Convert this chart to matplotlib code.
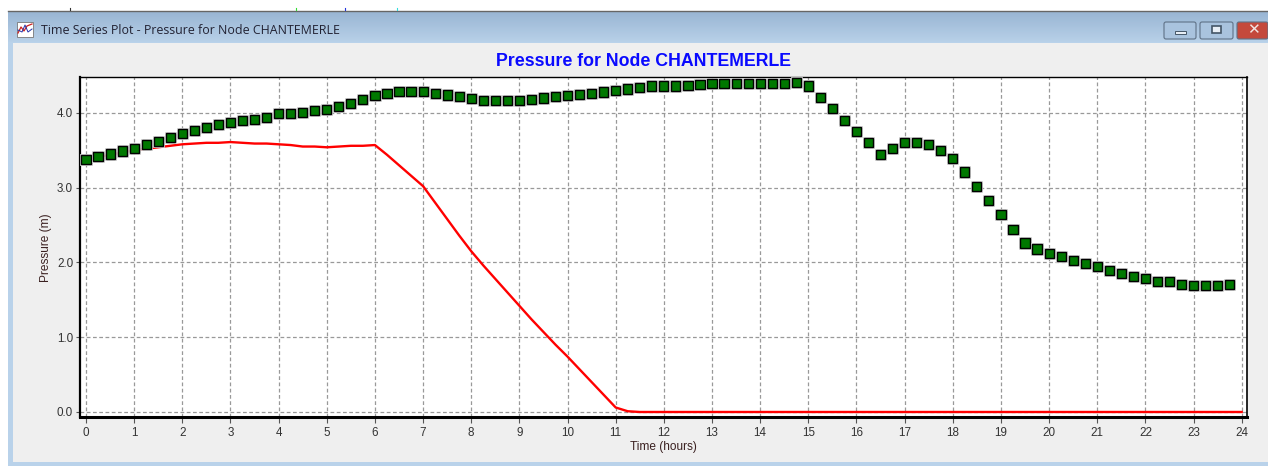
import matplotlib
matplotlib.use("Agg")
import matplotlib.pyplot as plt
import matplotlib.patheffects as pe
from matplotlib.colors import LinearSegmentedColormap
from matplotlib.patches import Rectangle, FancyBboxPatch
import numpy as np

plt.rcParams['font.family'] = ['Liberation Sans', 'DejaVu Sans']

W, H = 1268, 466

# pressure, one value every quarter hour
observed = [3.38, 3.42, 3.45, 3.49, 3.52, 3.58, 3.62, 3.67, 3.72, 3.76, 3.81, 3.84,
            3.87, 3.90, 3.91, 3.94, 3.99, 3.99, 4.00, 4.03, 4.05, 4.08, 4.13, 4.18,
            4.23, 4.26, 4.29, 4.29, 4.29, 4.26, 4.24, 4.22, 4.19, 4.17, 4.17, 4.17,
            4.17, 4.18, 4.20, 4.22, 4.23, 4.25, 4.26, 4.28, 4.30, 4.32, 4.34, 4.36,
            4.36, 4.36, 4.37, 4.38, 4.39, 4.39, 4.39, 4.39, 4.39, 4.39, 4.39, 4.41,
            4.36, 4.21, 4.06, 3.90, 3.75, 3.60, 3.44, 3.52, 3.60, 3.60, 3.58, 3.50,
            3.39, 3.21, 3.02, 2.83, 2.64, 2.44, 2.26, 2.18, 2.12, 2.08, 2.03, 1.99,
            1.95, 1.89, 1.85, 1.81, 1.78, 1.75, 1.74, 1.71, 1.69, 1.69, 1.69, 1.71]
simulated = [3.38, 3.41, 3.44, 3.47, 3.50, 3.52, 3.54, 3.56, 3.58, 3.59, 3.60, 3.60,
             3.61, 3.60, 3.59, 3.59, 3.58, 3.57, 3.55, 3.55, 3.54, 3.55, 3.56, 3.56,
             3.57, 3.44, 3.30, 3.16, 3.02, 2.80, 2.58, 2.36, 2.15, 1.96, 1.78, 1.60,
             1.42, 1.24, 1.07, 0.90, 0.74, 0.57, 0.40, 0.23, 0.06, 0.01, 0.0, 0.0]
simulated = simulated + [0.0] * 49
sim_hours = np.arange(len(simulated)) * 0.25
obs_hours = np.arange(len(observed)) * 0.25

x_ticks = list(range(0, 25))
y_ticks = [0, 1, 2, 3, 4]

fig = plt.figure(figsize=(W / 100, H / 100), dpi=100, facecolor='white')

# window chrome, in pixel coords
bg = fig.add_axes([0, 0, 1, 1])
bg.add_patch(Rectangle((8, 11), W - 8, H - 11, fc='#b9d2ea', ec='none', zorder=1))
bar_cmap = LinearSegmentedColormap.from_list('bar', ['#9ab6d4', '#b7d0e8'])
bg.imshow(np.linspace(0, 1, 30).reshape(-1, 1), extent=(8, W, 42, 12), aspect='auto',
          cmap=bar_cmap, zorder=2)
bg.set_xlim(0, W)
bg.set_ylim(H, 0)
bg.axis('off')
bg.plot([8, W], [11, 11], color='#666666', lw=1, zorder=3)
bg.add_patch(Rectangle((13, 43), W - 13, 419, fc='#efefef', ec='none', zorder=3))
bg.text(41, 30, 'Time Series Plot - Pressure for Node CHANTEMERLE', fontsize=8.96,
        color='#222233', va='center', family=['Open Sans', 'DejaVu Sans'], zorder=4)

# stray bits above the window
for x, c in [(70, '#333333'), (296, '#33dd33'), (345, '#2233dd'), (397, '#33dddd')]:
    bg.plot([x, x], [8, 10], color=c, lw=0.8, zorder=3)

# small window icon
bg.add_patch(Rectangle((17, 22), 16, 15, fc='white', ec='#777777', lw=0.6, zorder=4))
bg.plot([18, 21, 24, 27, 32], [33, 27, 31, 26, 24], color='#cc2222', lw=0.9, zorder=5)
bg.plot([18, 22, 25, 28, 32], [30, 32, 25, 32, 29], color='#2233aa', lw=0.7, zorder=5)

# title bar buttons
for x0, x1, fc in [(1164, 1196, '#a9c3de'), (1200, 1233, '#a9c3de'), (1237, 1268, '#c4493c')]:
    bg.add_patch(FancyBboxPatch((x0, 22), x1 - x0, 17, boxstyle='round,pad=0,rounding_size=2',
                                fc=fc, ec='#5f7186', lw=0.8, zorder=4))
bg.add_patch(Rectangle((1175, 30.5), 11, 3, fc='#e8eef5', ec='#445566', lw=0.7, zorder=5))
bg.add_patch(Rectangle((1212, 26), 9, 7, fc='#e8eef5', ec='#445566', lw=1.2, zorder=5))
bg.text(1253, 30, '✕', fontsize=11, color='#f2e6e4', ha='center', va='center',
        fontweight='bold', family=['DejaVu Sans'], zorder=5)

# plot area: left 80, right 1247, top 77, bottom 417
ax = fig.add_axes([80 / W, 1 - 417 / H, (1247 - 80) / W, (417 - 77) / H])
ax.set_facecolor('white')
ax.set_xlim(-0.125, 24.11)
ax.set_ylim(-0.067, 4.48)

ax.plot(sim_hours, simulated, color='#ff0000', lw=1.7, clip_on=False, zorder=3)
ax.plot(obs_hours, observed, ls='none', marker='s', ms=6.6, mfc='#007800', mec='black',
        mew=1.0, clip_on=False, zorder=4,
        path_effects=[pe.withStroke(linewidth=2.0, foreground='#cfcfcf')])

ax.set_xticks(x_ticks)
ax.set_yticks(y_ticks)
ax.set_yticklabels([f'{v:.1f}' for v in y_ticks])
ax.grid(True, ls=(0, (3, 2)), color='#999999', lw=0.9)
ax.set_axisbelow(True)
ax.tick_params(axis='x', length=4, width=0.8, color='#555555', labelcolor='#333333',
               labelsize=8.4, pad=3)
ax.tick_params(axis='y', length=3, width=0.8, color='#555555', labelcolor='#333333',
               labelsize=8.4, pad=2)

ax.spines['left'].set_linewidth(1.6)
ax.spines['bottom'].set_linewidth(2.2)
ax.spines['top'].set_linewidth(1.0)
ax.spines['right'].set_linewidth(1.2)

# labels are placed in pixel coords to sit where the reference has them
bg.text(643, 61, 'Pressure for Node CHANTEMERLE', fontsize=12.8, fontweight='bold',
        color='#0a0aff', ha='center', va='center', zorder=5)
bg.text(663, 447, 'Time (hours)', fontsize=8.6, color='#3a2020', ha='center', va='center', zorder=5)
bg.text(46, 248, 'Pressure (m)', fontsize=8.6, color='#3a2020', ha='center', va='center',
        rotation=90, zorder=5)

fig.savefig('out.png', dpi=100)
